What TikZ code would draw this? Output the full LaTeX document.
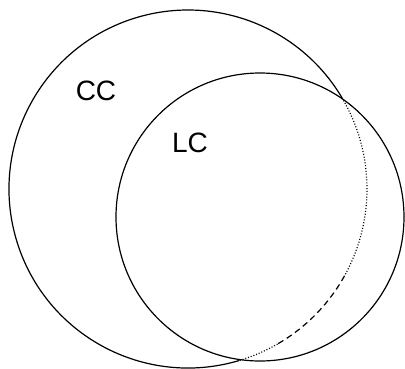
\documentclass[tikz,border=0pt]{standalone}
\usepackage{fontspec}
\setmainfont{Liberation Sans}
\begin{document}
\tikzset{every picture/.style={line width=0.9pt}}
\tikzset{lbl/.style={inner sep=0pt,font=\fontsize{21}{25}\selectfont},
  dotarc/.style={dash pattern=on 0.75pt off 1.4pt},
  dasharc/.style={dash pattern=on 4.5pt off 3pt}}

\begin{tikzpicture}[x=0.75pt,y=0.75pt,yscale=-1,xscale=1]
\useasboundingbox (0,0) rectangle (405,369);

\coordinate (cc) at (188,189);
\coordinate (lc) at (260,217);

%Shape: Circle LC
\draw (lc) circle [radius=144];
%Shape: Arc CC (outside LC)
\draw (cc) ++(73.3:179) arc [start angle=73.3, end angle=329.4, radius=179];
%Shape: Arc CC (inside LC)
\draw [dotarc] (cc) ++(-30.6:179) arc [start angle=-30.6, end angle=29, radius=179];
\draw [dasharc] (cc) ++(29:179) arc [start angle=29, end angle=60, radius=179];
\draw [dotarc] (cc) ++(60:179) arc [start angle=60, end angle=73.3, radius=179];

% Text Node
\node [lbl] (cclabel) at (96,91) {CC};
% Text Node
\node [lbl] (lclabel) at (190,143) {LC};

\end{tikzpicture}
\end{document}
